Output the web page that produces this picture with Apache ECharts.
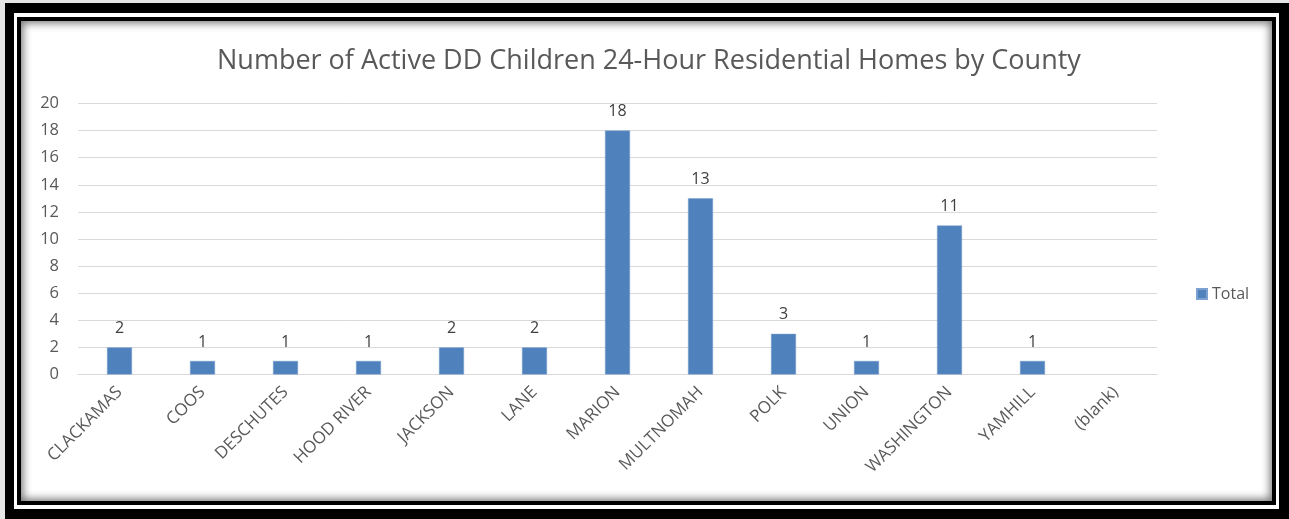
<!DOCTYPE html>
<html>
<head>
<meta charset="utf-8">
<script src="https://cdn.jsdelivr.net/npm/echarts@6/dist/echarts.min.js"></script>
<style>
  html, body { margin: 0; padding: 0; width: 1289px; height: 519px; overflow: hidden; background: #e6e6e6; }
  .frame-outer { position: absolute; left: 5px; top: 3px; width: 1284px; height: 516px; background: #000; }
  .frame-white { position: absolute; left: 14px; top: 13px; width: 1265px; height: 496px; background: #fff; }
  .frame-inner { position: absolute; left: 17px; top: 17px; width: 1259px; height: 488px; background: #000; }
  .panel { position: absolute; left: 21px; top: 21px; width: 1251px; height: 480px; background: #fff;
           box-shadow: inset 0 0 9px 2px rgba(0,0,0,0.55); }
  #chart { position: absolute; left: 0; top: 0; width: 1289px; height: 519px; }
</style>
</head>
<body>
<div class="frame-outer"></div>
<div class="frame-white"></div>
<div class="frame-inner"></div>
<div class="panel"></div>
<div id="chart"></div>
<script>
const titleText = 'Number of Active DD Children 24-Hour Residential Homes by County';
const counties = ['CLACKAMAS', 'COOS', 'DESCHUTES', 'HOOD RIVER', 'JACKSON', 'LANE', 'MARION',
                  'MULTNOMAH', 'POLK', 'UNION', 'WASHINGTON', 'YAMHILL', '(blank)'];
const totals = [2, 1, 1, 1, 2, 2, 18, 13, 3, 1, 11, 1, null];
const seriesName = 'Total';
const yTicks = { min: 0, max: 20, interval: 2 };

const chart = echarts.init(document.getElementById('chart'), null, { renderer: 'canvas' });
const font = 'Open Sans, Liberation Sans, sans-serif';

chart.setOption({
  backgroundColor: 'transparent',
  animation: false,
  title: {
    text: titleText,
    left: 212,
    top: 43,
    textStyle: { fontFamily: font, fontSize: 27, fontWeight: 'normal', color: '#595959' }
  },
  legend: {
    data: [seriesName],
    orient: 'vertical',
    left: 1191,
    top: 281,
    itemWidth: 10,
    itemHeight: 10,
    itemGap: 6,
    icon: 'rect',
    textStyle: { fontFamily: font, fontSize: 16, color: '#595959' }
  },
  grid: { left: 78, right: 132, top: 103.5, height: 271, containLabel: false },
  xAxis: {
    type: 'category',
    data: counties,
    axisLine: { lineStyle: { color: '#d9d9d9', width: 1 } },
    axisTick: { show: false },
    axisLabel: {
      rotate: 45,
      interval: 0,
      margin: 15,
      fontFamily: font,
      fontSize: 17,
      color: '#595959'
    }
  },
  yAxis: {
    type: 'value',
    min: yTicks.min,
    max: yTicks.max,
    interval: yTicks.interval,
    axisLine: { show: false },
    axisTick: { show: false },
    splitLine: { lineStyle: { color: '#d9d9d9', width: 1 } },
    axisLabel: { margin: 19, fontFamily: font, fontSize: 16.5, color: '#595959' }
  },
  series: [{
    name: seriesName,
    type: 'bar',
    data: totals,
    barWidth: 25,
    itemStyle: { color: '#4f81bd', borderColor: '#7da2cf', borderWidth: 0.5 },
    label: {
      show: true,
      position: 'top',
      distance: 11,
      fontFamily: font,
      fontSize: 16,
      color: '#404040'
    }
  }]
});
</script>
</body>
</html>
